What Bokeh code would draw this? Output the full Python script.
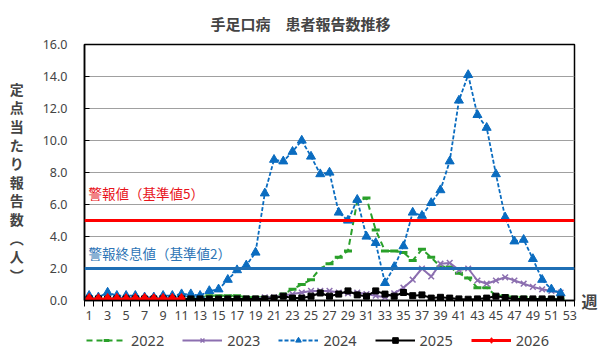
from bokeh.plotting import figure
from bokeh.layouts import column
from bokeh.models import (Range1d, FixedTicker, Span, Label, Legend, LegendItem,
                          NumeralTickFormatter, LinearAxis)
from bokeh.embed import file_html
from bokeh.resources import INLINE

# ---- data ----
x_ticks = list(range(1, 54, 2))
years = ["2022", "2023", "2024", "2025", "2026"]

y2022 = [0.1, 0.1, 0.1, 0.1, 0.1, 0.1, 0.1, 0.1, 0.1, 0.2, 0.2, 0.2, 0.2, 0.3, 0.3, 0.3, 0.3, 0.2, 0.2, 0.2,
         0.2, 0.4, 0.7, 1.0, 1.3, 2.0, 2.3, 2.7, 3.1, 6.2, 6.4, 4.4, 3.1, 3.1, 3.0, 2.5, 3.2, 2.7, 2.1, 2.1,
         1.7, 1.4, 0.8, 0.8, 0.3, 0.3, 0.2, 0.2, 0.1, 0.1, 0.1, 0.1]
y2023 = [0.1, 0.1, 0.1, 0.1, 0.1, 0.1, 0.1, 0.1, 0.1, 0.1, 0.1, 0.1, 0.1, 0.1, 0.1, 0.1, 0.1, 0.1, 0.1, 0.2,
         0.2, 0.3, 0.4, 0.5, 0.6, 0.6, 0.6, 0.5, 0.45, 0.5, 0.4, 0.3, 0.2, 0.45, 0.8, 1.3, 2.0, 1.5, 2.3, 2.35,
         1.9, 2.0, 1.25, 1.05, 1.25, 1.45, 1.25, 1.05, 0.85, 0.7, 0.6, 0.5]
y2024 = [0.3, 0.2, 0.5, 0.3, 0.3, 0.3, 0.2, 0.2, 0.3, 0.3, 0.4, 0.4, 0.3, 0.6, 0.7, 1.3, 1.9, 2.2, 3.0, 6.7,
         8.8, 8.7, 9.3, 10.0, 9.0, 7.9, 8.0, 5.5, 5.0, 6.3, 4.0, 3.6, 1.1, 2.1, 3.4, 5.5, 5.3, 6.1, 6.9, 8.7,
         12.5, 14.1, 11.6, 10.8, 7.9, 5.2, 3.7, 3.8, 2.6, 1.3, 0.7, 0.45]
y2025 = [0.1, 0.1, 0.1, 0.1, 0.1, 0.1, 0.1, 0.1, 0.1, 0.1, 0.1, 0.1, 0.1, 0.1, 0.1, 0.1, 0.1, 0.1, 0.1, 0.1,
         0.15, 0.27, 0.15, 0.15, 0.27, 0.47, 0.27, 0.4, 0.6, 0.35, 0.27, 0.6, 0.4, 0.27, 0.5, 0.3, 0.35, 0.15, 0.2, 0.15,
         0.1, 0.08, 0.1, 0.15, 0.27, 0.18, 0.1, 0.1, 0.1, 0.1, 0.1, 0.08]
y2026 = [0.1, 0.08, 0.1, 0.1, 0.08, 0.1, 0.1, 0.08, 0.1, 0.1, 0.1]

alert_level = 5
end_level = 2
title_text = "手足口病　患者報告数推移"
alert_text = "警報値（基準値5）"
end_text = "警報終息値（基準値2）"
y_title = "\n".join(["　"] + list("定点当たり報告数") + ["︵", "人", "︶"])
x_unit = "週"

JP = "Noto Sans CJK JP"
TICKFONT = "Noto Sans"

styles = [
    dict(color="#2aa02a", width=2, dash="6 4", marker="dash", size=8, mlw=3),
    dict(color="#8c6fb0", width=2, dash="solid", marker="x", size=8, mlw=1.5),
    dict(color="#0a6cc0", width=1.8, dash="4 2", marker="triangle", size=9, mlw=1),
    dict(color="black", width=2, dash="solid", marker="square", size=6, mlw=1),
    dict(color="#ff0000", width=3, dash="solid", marker="diamond", size=11, mlw=1),
]
series = [y2022, y2023, y2024, y2025, y2026]

p = figure(width=600, height=328, output_backend="svg", toolbar_location=None,
           x_range=Range1d(0.5, 53.5), y_range=Range1d(0, 16),
           min_border_left=84, min_border_right=26, min_border_top=40, min_border_bottom=28)

p.title.text = title_text
p.title.text_font = JP
p.title.text_font_size = "15px"
p.title.text_font_style = "bold"
p.title.align = "left"
p.title.offset = 126
p.title.standoff = 21

p.outline_line_color = "black"
p.outline_line_width = 1.5
p.background_fill_color = "white"
p.border_fill_color = "white"

# x axis
p.xaxis.ticker = FixedTicker(ticks=x_ticks, minor_ticks=[w + 0.5 for w in range(0, 54)])
p.xaxis.major_tick_in = 0
p.xaxis.major_tick_out = 0
p.xaxis.minor_tick_in = 0
p.xaxis.minor_tick_out = 6
p.xaxis.minor_tick_line_color = "black"
p.xaxis.axis_line_color = "black"
p.xaxis.axis_line_width = 1.5
p.xaxis.major_label_text_font = TICKFONT
p.xaxis.major_label_text_font_size = "12.5px"
p.xaxis.major_label_standoff = 4

# y axis
p.yaxis.ticker = FixedTicker(ticks=list(range(0, 17, 2)), minor_ticks=[])
p.yaxis.formatter = NumeralTickFormatter(format="0.0")
p.yaxis.major_tick_in = 5
p.yaxis.major_tick_out = 0
p.yaxis.axis_line_color = "black"
p.yaxis.axis_line_width = 1.5
p.yaxis.major_label_text_font = TICKFONT
p.yaxis.major_label_text_font_size = "12.5px"
p.yaxis.major_label_standoff = 17
p.yaxis.axis_label = y_title
p.yaxis.axis_label_orientation = "horizontal"
p.yaxis.axis_label_text_font = JP
p.yaxis.axis_label_text_font_size = "14px"
p.yaxis.axis_label_text_font_style = "bold"
p.yaxis.axis_label_text_line_height = 0.93
p.yaxis.axis_label_standoff = 16

# "週" unit shown as the single label of a bare right-hand axis at y = 0
unit_axis = LinearAxis(ticker=FixedTicker(ticks=[0], minor_ticks=[]),
                       major_label_overrides={0: x_unit},
                       axis_line_color=None, major_tick_line_color=None, minor_tick_line_color=None,
                       major_label_standoff=1, major_label_text_font=JP,
                       major_label_text_font_size="16px", major_label_text_font_style="bold",
                       major_label_text_baseline="top")
p.add_layout(unit_axis, "right")

p.xgrid.grid_line_color = None
p.ygrid.grid_line_color = "#a0a0a0"
p.ygrid.grid_line_width = 1.2

# reference lines
p.add_layout(Span(location=alert_level, dimension="width", line_color="#ff0000", line_width=3))
p.add_layout(Span(location=end_level, dimension="width", line_color="#1f6fb5", line_width=3))
p.add_layout(Label(x=0.5, y=alert_level, x_offset=4, y_offset=18, text=alert_text, text_font=JP,
                   text_font_size="13.5px", text_color="#e8141b"))
p.add_layout(Label(x=0.5, y=end_level, x_offset=4, y_offset=6, text=end_text, text_font=JP,
                   text_font_size="13.5px", text_color="#2e75b6"))

def wk(vals):
    return list(range(1, len(vals) + 1))

for vals, st in zip(series, styles):
    p.line(wk(vals), vals, line_color=st["color"], line_width=st["width"], line_dash=st["dash"])
    p.scatter(wk(vals), vals, marker=st["marker"], size=st["size"], fill_color=st["color"],
              line_color=st["color"], line_width=st["mlw"])

# legend strip underneath: same series, drawn out of its view so only the legend shows
q = figure(width=600, height=31, output_backend="svg", toolbar_location=None,
           x_range=Range1d(0.5, 53.5), y_range=Range1d(100, 101),
           min_border=0, min_border_left=0, min_border_right=0, min_border_top=0, min_border_bottom=0)
q.axis.visible = False
q.grid.visible = False
q.outline_line_color = None
items = []
for yr, vals, st in zip(years, series, styles):
    rl = q.line(wk(vals), vals, line_color=st["color"], line_width=st["width"], line_dash=st["dash"])
    rm = q.scatter(wk(vals), vals, marker=st["marker"], size=st["size"], fill_color=st["color"],
                   line_color=st["color"], line_width=st["mlw"])
    items.append(LegendItem(label=yr, renderers=[rl, rm]))
legend = Legend(items=items, orientation="horizontal", location=(2, 9),
                border_line_color=None, background_fill_alpha=0,
                label_text_font=TICKFONT, label_text_font_size="14.5px",
                glyph_width=40, glyph_height=14, spacing=18, padding=2, margin=0,
                label_standoff=5)
q.add_layout(legend)

layout = column(p, q, spacing=0)
open("out.html", "w").write(file_html(layout, INLINE))
